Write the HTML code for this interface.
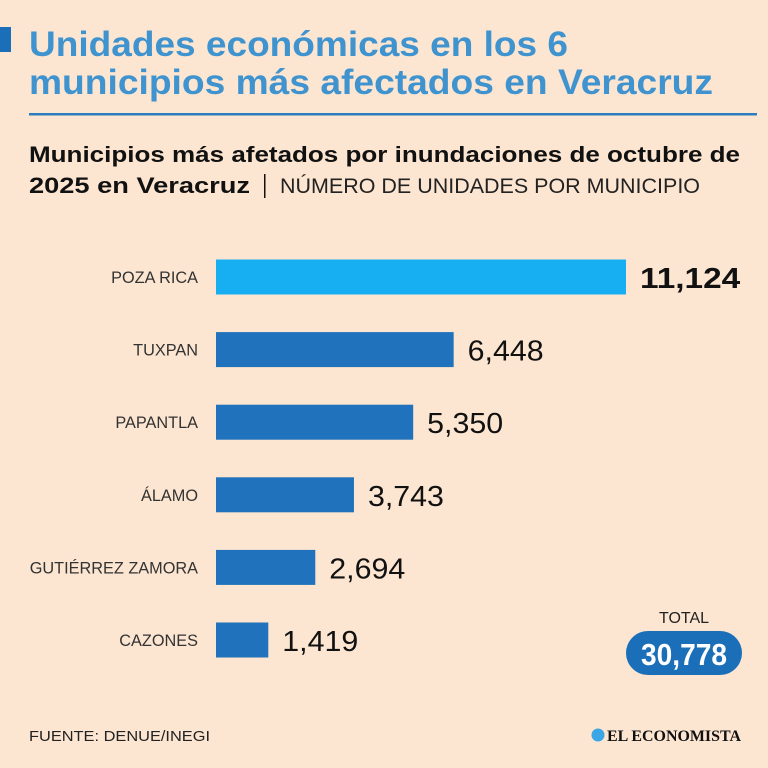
<!DOCTYPE html>
<html><head><meta charset="utf-8"><style>
html,body{margin:0;padding:0;background:#fce6d1;}
svg{display:block;font-family:"Liberation Sans",sans-serif;}
</style></head><body>
<svg id="chart" width="768" height="768" viewBox="0 0 768 768">
<rect width="768" height="768" fill="#fce6d1"/>
<rect x="0" y="27" width="11" height="25" fill="#1a6fb8"/>
<text x="29" y="56" font-size="35" font-weight="bold" fill="#3f93cf" textLength="539" lengthAdjust="spacingAndGlyphs">Unidades económicas en los 6</text>
<text x="29" y="94" font-size="35" font-weight="bold" fill="#3f93cf" textLength="684" lengthAdjust="spacingAndGlyphs">municipios más afectados en Veracruz</text>
<rect x="29" y="113" width="728" height="2.5" fill="#2b7dc0"/>
<text x="29" y="162" font-size="22" font-weight="bold" fill="#111" textLength="711" lengthAdjust="spacingAndGlyphs">Municipios más afetados por inundaciones de octubre de</text>
<text x="29" y="193" font-size="22" font-weight="bold" fill="#111" textLength="221" lengthAdjust="spacingAndGlyphs">2025 en Veracruz</text>
<rect x="264" y="174" width="1.5" height="24" fill="#111"/>
<text x="280" y="193" font-size="21" fill="#222" textLength="420" lengthAdjust="spacingAndGlyphs">NÚMERO DE UNIDADES POR MUNICIPIO</text>
<g id="bars"></g>
<text x="684" y="623" font-size="16" fill="#222" text-anchor="middle">TOTAL</text>
<rect x="626" y="631" width="116" height="44" rx="22" fill="#1a6fb8"/>
<text x="684" y="665" font-size="31" font-weight="bold" fill="#fff" text-anchor="middle" textLength="86" lengthAdjust="spacingAndGlyphs">30,778</text>
<text x="29" y="741" font-size="15" fill="#222" textLength="181" lengthAdjust="spacingAndGlyphs">FUENTE: DENUE/INEGI</text>
<circle cx="598" cy="735" r="6.5" fill="#3aa6e6"/>
<text x="607" y="741" font-family="Liberation Serif,serif" font-size="16" font-weight="bold" fill="#111" textLength="134" lengthAdjust="spacingAndGlyphs">EL ECONOMISTA</text>
</svg>
<script>
const categories = ["POZA RICA","TUXPAN","PAPANTLA","ÁLAMO","GUTIÉRREZ ZAMORA","CAZONES"];
const values = [11124, 6448, 5350, 3743, 2694, 1419];
const valueLabels = ["11,124","6,448","5,350","3,743","2,694","1,419"];
const x0 = 216, pxPerUnit = (626 - 216) / 11124;
function xScale(v){ return x0 + v * pxPerUnit; }
function yScale(i){ return 277 + i * 72.6; }
const ns = "http://www.w3.org/2000/svg";
const g = document.getElementById("bars");
categories.forEach((c, i) => {
  const y = yScale(i);
  const r = document.createElementNS(ns, "rect");
  r.setAttribute("x", x0); r.setAttribute("y", y - 17.5);
  r.setAttribute("width", xScale(values[i]) - x0); r.setAttribute("height", 35);
  r.setAttribute("fill", i === 0 ? "#17aef2" : "#1f72bb");
  
  
  g.appendChild(r);
  const l = document.createElementNS(ns, "text");
  l.setAttribute("x", 198); l.setAttribute("y", y + 6);
  l.setAttribute("text-anchor", "end"); l.setAttribute("font-size", "16.3"); l.setAttribute("fill", "#333");
  l.textContent = c;
  
  
  g.appendChild(l);
  const t = document.createElementNS(ns, "text");
  t.setAttribute("x", xScale(values[i]) + 14); t.setAttribute("y", y + 11);
  t.setAttribute("font-size", "29"); t.setAttribute("fill", "#111");
  const lab = valueLabels[i];
  if (i === 0) { t.setAttribute("font-weight", "bold"); t.setAttribute("textLength", lab.length * 16.7); }
  else t.setAttribute("textLength", lab.length * 15.2);
  t.setAttribute("lengthAdjust", "spacingAndGlyphs");
  t.textContent = lab;
  
  
  g.appendChild(t);
});
</script>
</body></html>
